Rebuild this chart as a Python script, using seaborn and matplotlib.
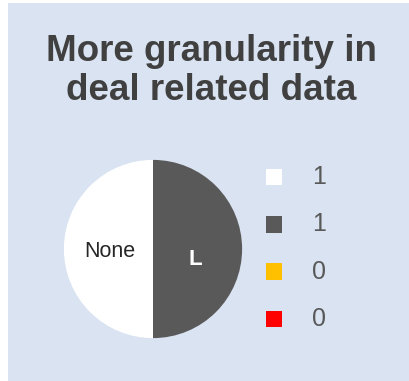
"""
Pie card: "More granularity in deal related data", with a small count legend.
"""

import numpy as np
import pandas as pd
import seaborn as sns
import matplotlib
matplotlib.use('Agg')
import matplotlib.pyplot as plt
from matplotlib.patches import Rectangle

# chart data
categories = ['None', 'L', 'M', 'H']
slice_labels = ['None', 'L', '', '']
counts = [1, 1, 0, 0]
colors = ['#FFFFFF', '#595959', '#FFC000', '#FF0000']
title = 'More granularity in\ndeal related data'

W, H = 410, 381


def box(x0, y0, x1, y1):
    # pixel box (top-down) -> figure coords
    return [x0 / W, 1 - y1 / H, (x1 - x0) / W, (y1 - y0) / H]


def main():
    sns.set_style('white')
    plt.rcParams['font.family'] = ['Liberation Sans', 'DejaVu Sans']

    fig = plt.figure(figsize=(W / 100, H / 100), dpi=100)
    fig.patch.set_facecolor('white')
    # light blue card behind everything
    fig.patches.append(Rectangle((8 / W, 0), 1 - 8 / W, 1 - 3 / H, transform=fig.transFigure,
                                 facecolor='#D9E3F1', edgecolor='none', zorder=-5))

    fig.text(211 / W, 1 - 71 / H, title, ha='center', va='center', fontsize=26.5,
             fontweight='bold', color='#404040', linespacing=1.12)

    # pie
    ax = fig.add_axes(box(63, 159, 243, 339))
    ax.patch.set_alpha(0)
    wedges, texts = ax.pie(counts, colors=colors, startangle=90, counterclock=True,
                           labels=slice_labels, labeldistance=0.48,
                           wedgeprops=dict(linewidth=0, edgecolor='none'))
    for t in texts:
        t.set_ha('center')
        t.set_va('center')
    texts[0].set_color('#262626')
    texts[0].set_fontsize(15.5)
    texts[0].set_position((-0.48, -0.03))
    texts[1].set_color('white')
    texts[1].set_fontsize(16)
    texts[1].set_fontweight('bold')
    texts[1].set_position((0.47, -0.12))
    ax.set_xlim(-1.01, 1.01)
    ax.set_ylim(-1.01, 1.01)
    ax.set_aspect('equal')
    ax.axis('off')

    # legend as its own little axes
    df = pd.DataFrame({'cat': categories, 'count': counts, 'row': np.arange(len(categories)), 'x': 0})
    lax = fig.add_axes(box(256, 153.5, 360, 342.5))
    lax.patch.set_alpha(0)
    sns.scatterplot(data=df, x='x', y='row', hue='cat', palette=colors, marker='s', s=140,
                    edgecolor='none', legend=False, ax=lax)
    for r, c in zip(df['row'], df['count']):
        lax.text(1.36, r, str(c), ha='center', va='center', fontsize=18, color='#595959')
    lax.set_xlim(-0.55, 2.6)
    lax.set_ylim(3.5, -0.5)
    lax.axis('off')

    fig.savefig('out.png', dpi=100)


if __name__ == '__main__':
    main()
